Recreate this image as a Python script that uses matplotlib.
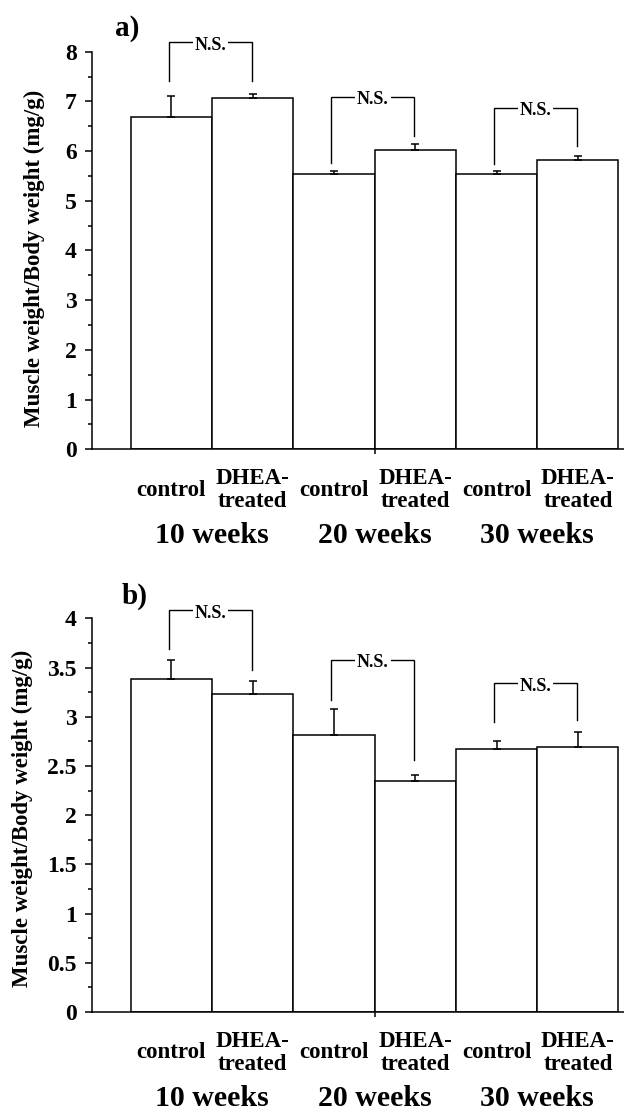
import matplotlib
matplotlib.use("Agg")
import matplotlib.pyplot as plt
import numpy as np

plt.rcParams['font.family'] = ['Liberation Serif', 'DejaVu Serif']
plt.rcParams['font.weight'] = 'bold'

# ---------------- data ----------------
categories = ["control", "DHEA-\ntreated", "control", "DHEA-\ntreated", "control", "DHEA-\ntreated"]
groups = ["10 weeks", "20 weeks", "30 weeks"]

a_values = [6.69, 7.07, 5.53, 6.02, 5.53, 5.82]
a_errors = [0.42, 0.07, 0.06, 0.12, 0.06, 0.09]
a_yticks = [0, 1, 2, 3, 4, 5, 6, 7, 8]
a_yticklabels = ["0", "1", "2", "3", "4", "5", "6", "7", "8"]
# N.S. brackets: (left bar, right bar, left leg bottom, top, right leg bottom)
a_brackets = [(0, 1, 7.41, 8.19, 7.41),
              (2, 3, 5.77, 7.09, 6.30),
              (4, 5, 5.75, 6.87, 6.11)]

b_values = [3.386, 3.231, 2.814, 2.348, 2.677, 2.695]
b_errors = [0.19, 0.135, 0.265, 0.057, 0.076, 0.151]
b_yticks = [0, 0.5, 1, 1.5, 2, 2.5, 3, 3.5, 4]
b_yticklabels = ["0", "0.5", "1", "1.5", "2", "2.5", "3", "3.5", "4"]
b_brackets = [(0, 1, 3.685, 4.08, 3.47),
              (2, 3, 3.17, 3.58, 2.56),
              (4, 5, 2.95, 3.34, 2.97)]

ylabel = "Muscle weight/Body weight (mg/g)"

W, H = 624, 1112
fig = plt.figure(figsize=(W / 100, H / 100), dpi=100)


def panel(rect, values, errors, yticks, yticklabels, ymax, minor_step, brackets,
          letter, letter_xy, ylabel_xy):
    ax = fig.add_axes(rect)
    x = np.arange(len(values))
    ax.bar(x, values, width=1.0, color='white', edgecolor='black', linewidth=1.1, zorder=2)
    ax.errorbar(x, values, yerr=[np.zeros(len(errors)), errors], fmt='none',
                ecolor='black', elinewidth=1.1, capsize=2.6, capthick=1.1, zorder=3)
    ax.set_xlim(-0.972, 5.568)
    ax.set_ylim(0, ymax)
    ax.spines['top'].set_visible(False)
    ax.spines['right'].set_visible(False)
    ax.spines['left'].set_linewidth(1.1)
    ax.spines['bottom'].set_linewidth(1.1)
    ax.set_yticks(yticks)
    ax.set_yticklabels(yticklabels, fontsize=17, fontweight='bold')
    ax.set_yticks(np.arange(0, ymax + 1e-9, minor_step), minor=True)
    ax.tick_params(axis='y', which='major', length=4.8, width=1.1, pad=6.5)
    ax.tick_params(axis='y', which='minor', length=2.9, width=1.1)
    ax.set_xticks([2.5])
    ax.set_xticklabels([""])
    ax.tick_params(axis='x', which='major', length=3.5, width=1.1, direction='out')

    # category labels
    for xi, lab in zip(x, categories):
        ax.annotate(lab, xy=(xi, 0), xycoords=('data', 'axes fraction'),
                    xytext=(0, -29.5), textcoords='offset points',
                    ha='center', va='center', fontsize=16.5, fontweight='bold',
                    linespacing=1.1, annotation_clip=False)
    # group labels
    for gi, g in enumerate(groups):
        ax.annotate(g, xy=(2 * gi + 0.5, 0), xycoords=('data', 'axes fraction'),
                    xytext=(0, -62), textcoords='offset points',
                    ha='center', va='center', fontsize=21.5, fontweight='bold',
                    annotation_clip=False)
    # brackets
    for (i, j, lb, top, rb) in brackets:
        xl, xr = x[i] - 0.03, x[j] - 0.01
        ax.plot([xl, xl, xr, xr], [lb, top, top, rb], color='black', lw=1.0,
                clip_on=False, zorder=4, solid_joinstyle='miter')
        ax.annotate("N.S.", xy=((xl + xr) / 2, top), xycoords='data',
                    xytext=(0, -2), textcoords='offset points',
                    ha='center', va='center', fontsize=13, fontweight='bold',
                    bbox=dict(boxstyle='square,pad=0.1', fc='white', ec='none'),
                    zorder=5, annotation_clip=False)
    fig.text(letter_xy[0] / W, 1 - letter_xy[1] / H, letter, fontsize=21,
             fontweight='bold', ha='center', va='center')
    fig.text(ylabel_xy[0] / W, 1 - ylabel_xy[1] / H, ylabel, rotation=90,
             fontsize=16.5, fontweight='bold', ha='center', va='center')
    return ax


left = 92.3 / W
width = 1 - left
panel([left, 1 - 449.3 / H, width, (449.3 - 51.7) / H], a_values, a_errors,
      a_yticks, a_yticklabels, 8, 0.5, a_brackets, "a)", (127.5, 28), (34, 258))
panel([left, 1 - 1012.0 / H, width, (1012.0 - 618.3) / H], b_values, b_errors,
      b_yticks, b_yticklabels, 4, 0.25, b_brackets, "b)", (134.5, 596), (22, 818))

fig.savefig("out.png", dpi=100)
